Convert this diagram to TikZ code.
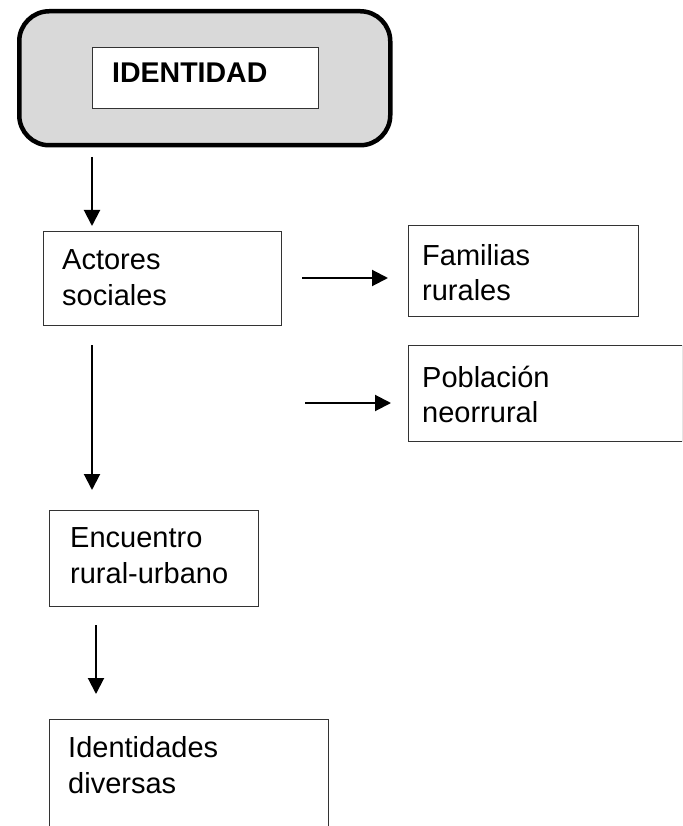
\documentclass[tikz,border=0pt]{standalone}
\usepackage{fontspec}
\setmainfont{Liberation Sans}
\usetikzlibrary{arrows.meta}
\definecolor{fillgray}{HTML}{D9D9D9}
\definecolor{edge}{HTML}{333333}
\begin{document}
\begin{tikzpicture}[x=1pt,y=-1pt,
  box/.style={draw=edge, line width=1.2pt, anchor=north west, inner sep=0pt, fill=white},
  txt/.style={anchor=base west, align=left, inner sep=0pt, font=\fontsize{29}{35.5}\selectfont},
  arr/.style={line width=2pt, -{Triangle[length=16pt,width=16pt]}}]
\useasboundingbox (0,0) rectangle (682,826);
\clip (0,0) rectangle (682,826);
% title block
\node[draw=black, line width=4.5pt, rounded corners=30pt, fill=fillgray, anchor=north west,
      minimum width=371pt, minimum height=134pt, inner sep=0pt] (outer) at (17,9) {};
\node[box, minimum width=226pt, minimum height=61pt] (inner) at (92,47) {};
\node[txt, font=\fontsize{28.5}{35.5}\selectfont\bfseries] (tid) at (112,83) {IDENTIDAD};
% boxes (text anchored at the baseline of its last line)
\node[box, minimum width=238pt, minimum height=94pt] (actores) at (43,231) {};
\node[txt] (tact) at (62,305) {Actores\\sociales};
\node[box, minimum width=230pt, minimum height=91pt] (familias) at (408,225) {};
\node[txt] (tfam) at (422,300.5) {Familias\\rurales};
\node[box, minimum width=273.5pt, minimum height=96pt] (poblacion) at (408,345) {};
\node[txt] (tpob) at (422,422.5) {Población\\neorrural};
\node[box, minimum width=209pt, minimum height=96pt] (encuentro) at (49,510) {};
\node[txt] (tenc) at (70,583) {Encuentro\\rural-urbano};
\node[box, minimum width=279pt, minimum height=140pt] (identidades) at (49,719) {};
\node[txt] (tide) at (68,793) {Identidades\\diversas};
% arrow coordinates
\coordinate (a1s) at (92,157);  \coordinate (a1e) at (92,226);
\coordinate (a2s) at (302,278); \coordinate (a2e) at (388,278);
\coordinate (a3s) at (92,345);  \coordinate (a3e) at (92,490);
\coordinate (a4s) at (305,403); \coordinate (a4e) at (391,403);
\coordinate (a5s) at (96,625);  \coordinate (a5e) at (96,694);
\draw[arr] (a1s) -- (a1e);
\draw[arr] (a2s) -- (a2e);
\draw[arr] (a3s) -- (a3e);
\draw[arr] (a4s) -- (a4e);
\draw[arr] (a5s) -- (a5e);
\end{tikzpicture}
\end{document}
